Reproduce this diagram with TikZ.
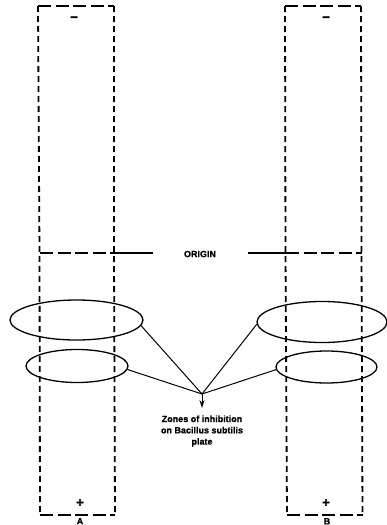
\documentclass[tikz,border=0pt]{standalone}
\usepackage{fontspec}
\setmainfont{Liberation Sans}[BoldFeatures={FakeBold=1.2}]
\newfontfamily\signfont{Liberation Sans}[BoldFeatures={FakeBold=2.5}]
\usetikzlibrary{shapes.geometric,arrows.meta}
\begin{document}
\begin{tikzpicture}[x=1pt,y=-1pt,
  vdash/.style={line width=1.8pt,dash pattern=on 6pt off 4pt},
  hdash/.style={line width=1.7pt,dash pattern=on 13pt off 4.5pt},
  rule/.style={line width=1.5pt},
  zone/.style={ellipse,draw,line width=1.3pt,inner sep=0pt},
  link/.style={line width=1pt},
  lbl/.style={font=\bfseries\fontsize{9}{11.3}\selectfont,inner sep=0pt},
  sign/.style={font=\signfont\bfseries\fontsize{13}{13}\selectfont,inner sep=0pt}]
\useasboundingbox (0,0) rectangle (387,525);

% strip A
\draw[hdash] (38,6) -- (114,6);
\draw[vdash] (38,6) -- (39.5,253) -- (40,515);
\draw[vdash] (114,6) -- (114,253) -- (115,515);
\draw[hdash] (40,515) -- (115,515);
% strip B
\draw[hdash] (285,6) -- (361,6);
\draw[vdash] (285,6) -- (285.5,253) -- (287,515);
\draw[vdash] (361,6) -- (361.5,253) -- (362.5,515);
\draw[hdash] (287,515) -- (362.5,515);

% origin line
\node[lbl] (origin) at (200,254) {ORIGIN};
\draw[hdash] (40,253) -- (114,253);
\draw[rule] (114,253) -- (153,253);
\draw[rule] (248,253) -- (286,253);
\draw[hdash] (286,253) -- (361.5,253);

% electrode signs and strip labels
\node[sign] (minA) at (74,19) {−};
\node[sign] (minB) at (326,19) {−};
\node[sign] (plusA) at (80,503) {+};
\node[sign] (plusB) at (326,503) {+};
\node[lbl,font=\bfseries\fontsize{9}{9}\selectfont,anchor=north] (labA) at (80,518) {A};
\node[lbl,font=\bfseries\fontsize{9}{9}\selectfont,anchor=north] (labB) at (327,518) {B};

% zones of inhibition
\node[zone,minimum width=133pt,minimum height=40pt] (zA1) at (76.5,320) {};
\node[zone,minimum width=102pt,minimum height=33pt] (zA2) at (77,366) {};
\node[zone,minimum width=130pt,minimum height=41pt] (zB1) at (322,322) {};
\node[zone,minimum width=101pt,minimum height=32pt] (zB2) at (326.5,367) {};

\coordinate (hub) at (202,394);
\coordinate (tip) at (202,408);
\draw[link] (zA1.-5) -- (hub);
\draw[link] (zA2.-4) -- (hub);
\draw[link] (zB1.182) -- (hub);
\draw[link] (zB2.183) -- (hub);
\draw[link,-{Stealth[length=8pt,width=5pt]}] (hub) -- (tip);

\node[lbl,align=center] (note) at (202,431) {Zones of inhibition\\on Bacillus subtilis\\plate};
\end{tikzpicture}
\end{document}
